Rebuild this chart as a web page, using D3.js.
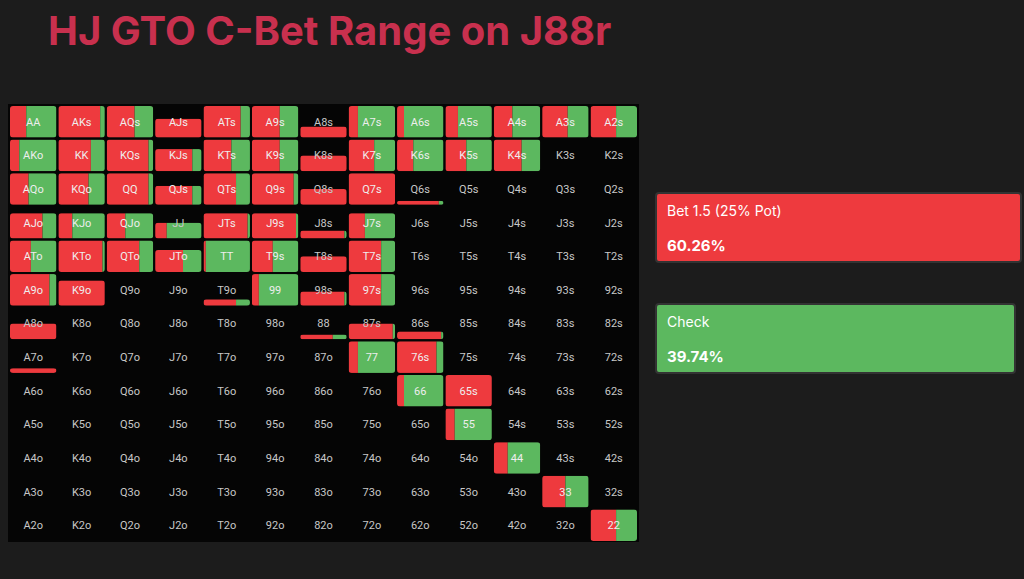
<!DOCTYPE html>
<html><head><meta charset="utf-8">
<script src="https://cdn.jsdelivr.net/npm/d3@7"></script>
<style>body{margin:0;background:#1c1c1c;overflow:hidden}</style>
</head><body><svg id="chart"></svg>
<script>
// Ranks and played hands (freq = share of combos in range, bet = share betting)
const ranks = ["A","K","Q","J","T","9","8","7","6","5","4","3","2"];
const rangeHands = ["AA","AKs","AQs","AJs","ATs","A9s","A8s","A7s","A6s","A5s","A4s","A3s","A2s",
  "AKo","KK","KQs","KJs","KTs","K9s","K8s","K7s","K6s","K5s","K4s",
  "AQo","KQo","QQ","QJs","QTs","Q9s","Q8s","Q7s","Q6s",
  "AJo","KJo","QJo","JJ","JTs","J9s","J8s","J7s",
  "ATo","KTo","QTo","JTo","TT","T9s","T8s","T7s",
  "A9o","K9o","T9o","99","98s","97s",
  "A8o","88","87s","86s","A7o","77","76s","66","65s","55","44","33","22"];
const rangeFreq = [1,1,1,0.6,1,1,0.35,1,1,1,1,1,1,
  1,1,1,0.7,1,1,0.5,1,1,1,1,
  1,1,1,0.6,1,1,0.5,1,0.1,
  0.8,0.8,0.8,0.5,0.8,0.8,0.25,0.8,
  1,1,1,0.7,1,1,0.5,1,
  1,0.8,0.2,1,0.45,1,
  0.5,0.15,0.5,0.25,0.15,1,1,1,1,1,1,1,1];
const rangeBet = [0.35,0.9,0.6,1,0.8,0.6,1,0.2,0.15,0.27,0.4,0.55,0.55,
  0.2,0.7,0.9,0.8,0.6,0.6,1,0.55,0.35,0.45,0.6,
  0.4,0.65,0.9,0.8,0.7,0.9,1,1,0.9,
  0.7,0.3,0.4,0.25,0.95,0.95,0.95,0.35,
  0.45,0.95,0.7,0.6,0.05,0.45,1,0.7,
  0.85,1,0.7,0.15,0.95,0.7,
  1,0.7,0.95,0.95,1,0.2,0.85,0.15,1,0.2,0.3,0.5,0.55];
const actions = ["Bet 1.5 (25% Pot)","Check"];
const actionPct = ["60.26%","39.74%"];

const W = 1024, H = 579, red = "#ee3a3e", green = "#5cb85f";
const svg = d3.select("#chart").attr("width", W).attr("height", H);
svg.append("rect").attr("width", W).attr("height", H).attr("fill", "#1c1c1c");

svg.append("text").attr("x", 48).attr("y", 45)
  .attr("font-family", "Inter, sans-serif").attr("font-weight", 700).attr("font-size", 40)
  .attr("fill", "#c8304e").text("HJ GTO C-Bet Range on J88r");

const x = d3.scaleBand().domain(d3.range(13)).range([10, 637]).paddingInner(0.04);
const y = d3.scaleBand().domain(d3.range(13)).range([106, 541]).paddingInner(0.06);
svg.append("rect").attr("x", 8).attr("y", 104).attr("width", 631).attr("height", 438).attr("fill", "#050505");

const handName = (i, j) => i === j ? ranks[i] + ranks[j] : i < j ? ranks[i] + ranks[j] + "s" : ranks[j] + ranks[i] + "o";
const cells = [];
for (let i = 0; i < 13; i++) for (let j = 0; j < 13; j++) {
  const name = handName(i, j), k = rangeHands.indexOf(name);
  cells.push({ i, j, name, f: k < 0 ? 0 : rangeFreq[k], b: k < 0 ? 0 : rangeBet[k] });
}
const g = svg.selectAll("g.cell").data(cells).join("g").attr("class", "cell")
  .attr("transform", d => `translate(${x(d.j)},${y(d.i)})`);
const bw = x.bandwidth(), bh = y.bandwidth();
g.each(function (d) {
  if (!d.f) return;
  const h = Math.max(4, bh * d.f), sel = d3.select(this);
  const clip = "c" + d.i + "_" + d.j;
  sel.append("clipPath").attr("id", clip).append("rect")
    .attr("y", bh - h).attr("width", bw).attr("height", h).attr("rx", 3);
  const gg = sel.append("g").attr("clip-path", `url(#${clip})`);
  gg.append("rect").attr("y", bh - h).attr("width", bw * d.b).attr("height", h).attr("fill", red);
  gg.append("rect").attr("x", bw * d.b).attr("y", bh - h).attr("width", bw * (1 - d.b)).attr("height", h).attr("fill", green);
});
g.append("text").attr("x", bw / 2).attr("y", bh / 2 + 4).attr("text-anchor", "middle")
  .attr("font-family", "Roboto, sans-serif").attr("font-size", 11)
  .attr("fill", d => d.f > 0.5 ? "#eee" : "#c8c8c8").text(d => d.name);

// action summary boxes
const by = d3.scaleBand().domain(actions).range([193, 373]).paddingInner(0.38);
const boxes = svg.selectAll("g.act").data(actions).join("g").attr("class", "act")
  .attr("transform", d => `translate(656,${by(d)})`);
boxes.append("rect").attr("width", (d, i) => i ? 359 : 365).attr("height", by.bandwidth())
  .attr("rx", 3).attr("fill", (d, i) => i ? green : red).attr("stroke", "#333").attr("stroke-width", 2);
boxes.append("text").attr("x", 11).attr("y", 23).attr("font-family", "Inter, sans-serif")
  .attr("font-size", 14).attr("fill", "#fff").text(d => d);
boxes.append("text").attr("x", 11).attr("y", 58).attr("font-family", "Inter, sans-serif")
  .attr("font-weight", 700).attr("font-size", 15).attr("fill", "#fff").text((d, i) => actionPct[i]);
</script></body></html>
